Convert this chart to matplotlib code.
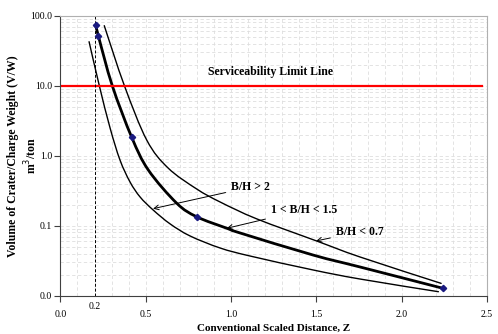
import numpy as np
import matplotlib
matplotlib.use("Agg")
import matplotlib.pyplot as plt
from matplotlib.path import Path
from matplotlib.patches import PathPatch
from matplotlib.ticker import FormatStrFormatter, MultipleLocator, LogLocator, NullFormatter

plt.rcParams['font.family'] = ['Liberation Serif', 'DejaVu Serif']

# values
# B/H > 2 (lower thin curve)
z_low = [0.168, 0.228, 0.291, 0.349, 0.408, 0.467, 0.543, 0.643, 0.760, 0.936, 1.111, 1.481, 1.756, 2.215]
v_low = [42.5, 10.0, 2.49, 0.869, 0.421, 0.257, 0.168, 0.106, 0.0713, 0.048, 0.0369, 0.0233, 0.0173, 0.0114]

# 1 < B/H < 1.5 (thick curve)
z_mid = [0.207, 0.222, 0.304, 0.418, 0.515, 0.682, 0.799, 0.975, 1.053, 1.482, 1.756, 2.239]
v_mid = [73.6, 51.8, 10.0, 1.83, 0.625, 0.209, 0.134, 0.092, 0.0787, 0.038, 0.0257, 0.0128]

# measured points on the thick curve
z_pts = [0.207, 0.222, 0.418, 0.799, 2.239]
v_pts = [73.6, 51.8, 1.83, 0.134, 0.0128]

# B/H < 0.7 (upper thin curve)
z_high = [0.257, 0.375, 0.506, 0.631, 0.799, 0.936, 1.151, 1.502, 1.756, 2.231]
v_high = [72.0, 10.0, 1.67, 0.667, 0.334, 0.218, 0.125, 0.0604, 0.0357, 0.0150]

limit_v = 10.0
z_ref = 0.2


def smooth_path(xs, ys, t=0.5):
    """Excel-style smoothed line: cubic Bezier segments (Catmull-Rom) in log-y space."""
    x = np.asarray(xs, float)
    y = np.log10(ys)
    n = len(x)
    verts = [(xs[0], ys[0])]
    codes = [Path.MOVETO]
    for i in range(n - 1):
        i0, i3 = max(i - 1, 0), min(i + 2, n - 1)
        c1x = x[i] + (x[i + 1] - x[i0]) * t / 3
        c1y = y[i] + (y[i + 1] - y[i0]) * t / 3
        c2x = x[i + 1] - (x[i3] - x[i]) * t / 3
        c2y = y[i + 1] - (y[i3] - y[i]) * t / 3
        verts += [(c1x, 10 ** c1y), (c2x, 10 ** c2y), (xs[i + 1], ys[i + 1])]
        codes += [Path.CURVE4] * 3
    return Path(verts, codes)


fig = plt.figure(figsize=(4.98, 3.34), dpi=100)
ax = fig.add_axes([0.1213, 0.1147, 0.978 - 0.1213, 0.953 - 0.1147])

ax.set_yscale('log')
ax.set_xlim(0, 2.5)
ax.set_ylim(0.01, 100)

# grid
ax.xaxis.set_major_locator(MultipleLocator(0.5))
ax.xaxis.set_minor_locator(MultipleLocator(0.1))
ax.yaxis.set_major_locator(LogLocator(base=10))
ax.yaxis.set_minor_locator(LogLocator(base=10, subs=np.arange(2, 10)))
ax.yaxis.set_minor_formatter(NullFormatter())
ax.grid(True, which='both', color='#dedede', linestyle=(0, (4, 3)), linewidth=0.6)
ax.set_axisbelow(True)
ax.tick_params(which='minor', length=0)
ax.tick_params(which='major', direction='out', length=4, width=0.8, labelsize=7, color='#404040')
ax.tick_params(axis='y', pad=2)
ax.tick_params(axis='x', pad=6)
ax.xaxis.set_major_formatter(FormatStrFormatter('%.1f'))
ax.yaxis.set_major_formatter(FormatStrFormatter('%.1f'))

for s in ['top', 'right']:
    ax.spines[s].set_color('#b0b0b0')
for s in ['left', 'bottom']:
    ax.spines[s].set_color('#404040')

# serviceability limit
ax.plot([0, 2.47], [limit_v, limit_v], color='red', lw=1.6)
ax.axvline(z_ref, color='black', lw=0.7, ls=(0, (3, 2)))

for zs, vs, w in [(z_low, v_low, 1.0), (z_high, v_high, 1.0), (z_mid, v_mid, 2.0)]:
    ax.add_patch(PathPatch(smooth_path(zs, vs), fill=False, edgecolor='black', lw=w,
                           capstyle='round', joinstyle='round'))
ax.plot(z_pts, v_pts, 'D', color='#1a1a80', ms=3.2, lw=0)

fs = 8.5
ax.text(1.23, 15.7, 'Serviceability Limit Line', fontsize=fs, fontweight='bold',
        ha='center', va='center')
ax.annotate('B/H > 2', xy=(0.543, 0.175), xytext=(1.0, 0.357), fontsize=fs,
            fontweight='bold', va='center', ha='left',
            arrowprops=dict(arrowstyle='->', lw=0.7, color='black', shrinkA=2, shrinkB=0))
ax.annotate('1 < B/H < 1.5', xy=(0.975, 0.0918), xytext=(1.233, 0.168), fontsize=fs,
            fontweight='bold', va='center', ha='left',
            arrowprops=dict(arrowstyle='->', lw=0.7, color='black', shrinkA=2, shrinkB=0))
ax.annotate('B/H < 0.7', xy=(1.498, 0.0605), xytext=(1.614, 0.082), fontsize=fs,
            fontweight='bold', va='center', ha='left',
            arrowprops=dict(arrowstyle='->', lw=0.7, color='black', shrinkA=2, shrinkB=0))

ax.text(z_ref, -0.04, '0.2', transform=ax.get_xaxis_transform(), fontsize=7,
        ha='center', va='center')

ax.set_xlabel('Conventional Scaled Distance, Z', fontsize=8, fontweight='bold', labelpad=4)
fig.text(0.026, 0.533, 'Volume of Crater/Charge Weight (V/W)', rotation=90, fontsize=8.5,
         fontweight='bold', ha='center', va='center')
fig.text(0.062, 0.533, 'm$^3$/ton', rotation=90, fontsize=8.5,
         fontweight='bold', ha='center', va='center')

fig.savefig('out.png', dpi=100)
